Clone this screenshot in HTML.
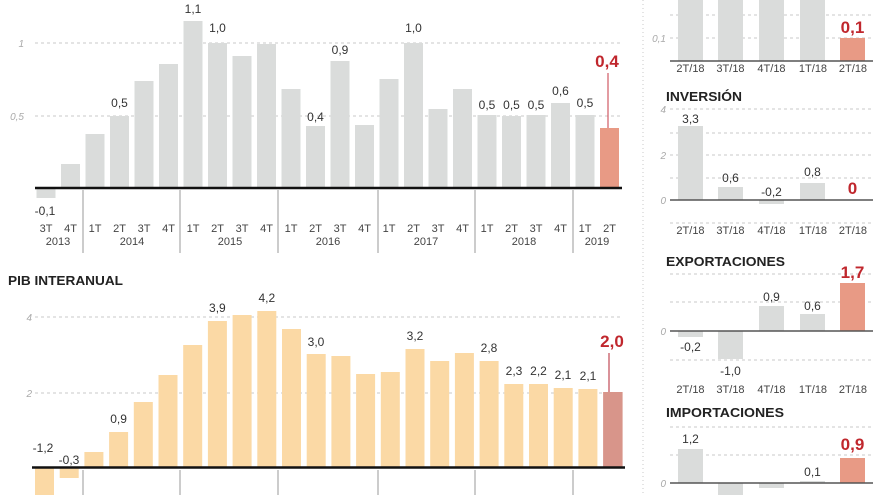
<!DOCTYPE html>
<html><head><meta charset="utf-8"><style>
html,body{margin:0;padding:0;background:#fff;}
svg{display:block;}
text{font-family:"Liberation Sans",sans-serif;}
.v{font-size:12px;fill:#333;text-anchor:middle;}
.t{font-size:11px;fill:#444;text-anchor:middle;}
.y{font-size:10px;fill:#aaa;font-style:italic;text-anchor:end;}
.r{font-size:17px;fill:#c0272d;font-weight:bold;text-anchor:middle;}
.h{font-size:13px;fill:#222;font-weight:bold;}
.g{stroke:#c8c8c8;stroke-width:1;stroke-dasharray:3,3;}
</style></head><body>
<svg width="880" height="495" viewBox="0 0 880 495" xmlns="http://www.w3.org/2000/svg">
<rect width="880" height="495" fill="#fff"/>

<!-- TOP CHART -->
<line class="g" x1="35" y1="43" x2="622" y2="43"/>
<line class="g" x1="35" y1="116" x2="622" y2="116"/>
<text class="y" x="24" y="47">1</text>
<text class="y" x="24" y="120">0,5</text>
<g fill="#dadcdb">
<rect x="36.5" y="189" width="19" height="9"/>
<rect x="61" y="164" width="19" height="24"/>
<rect x="85.5" y="134" width="19" height="54"/>
<rect x="110" y="116" width="19" height="72"/>
<rect x="134.5" y="81" width="19" height="107"/>
<rect x="159" y="64" width="19" height="124"/>
<rect x="183.5" y="21" width="19" height="167"/>
<rect x="208" y="43" width="19" height="145"/>
<rect x="232.5" y="56" width="19" height="132"/>
<rect x="257" y="44" width="19" height="144"/>
<rect x="281.5" y="89" width="19" height="99"/>
<rect x="306" y="126" width="19" height="62"/>
<rect x="330.5" y="61" width="19" height="127"/>
<rect x="355" y="125" width="19" height="63"/>
<rect x="379.5" y="79" width="19" height="109"/>
<rect x="404" y="43" width="19" height="145"/>
<rect x="428.5" y="109" width="19" height="79"/>
<rect x="453" y="89" width="19" height="99"/>
<rect x="477.5" y="115" width="19" height="73"/>
<rect x="502" y="116" width="19" height="72"/>
<rect x="526.5" y="115" width="19" height="73"/>
<rect x="551" y="103" width="19" height="85"/>
<rect x="575.5" y="115" width="19" height="73"/>
</g>
<rect x="600" y="128" width="19" height="60" fill="#e89a85"/>
<line x1="608" y1="73" x2="608" y2="128" stroke="#d05a63" stroke-width="1.2"/>
<line x1="35" y1="188" x2="622" y2="188" stroke="#111" stroke-width="2.5"/>
<g stroke="#9a9a9a" stroke-width="1">
<line x1="83" y1="190" x2="83" y2="253"/>
<line x1="180" y1="190" x2="180" y2="253"/>
<line x1="278" y1="190" x2="278" y2="253"/>
<line x1="378" y1="190" x2="378" y2="253"/>
<line x1="475" y1="190" x2="475" y2="253"/>
<line x1="573" y1="190" x2="573" y2="253"/>
</g>
<text class="v" x="45" y="215">-0,1</text>
<text class="v" x="119.5" y="107">0,5</text>
<text class="v" x="193" y="13">1,1</text>
<text class="v" x="217.5" y="32">1,0</text>
<text class="v" x="315.5" y="121">0,4</text>
<text class="v" x="340" y="54">0,9</text>
<text class="v" x="413.5" y="32">1,0</text>
<text class="v" x="487" y="109">0,5</text>
<text class="v" x="511.5" y="109">0,5</text>
<text class="v" x="536" y="109">0,5</text>
<text class="v" x="560.5" y="95">0,6</text>
<text class="v" x="585" y="107">0,5</text>
<text class="r" x="607" y="67">0,4</text>
<g class="t">
<text x="46" y="232">3T</text><text x="70.5" y="232">4T</text>
<text x="95" y="232">1T</text><text x="119.5" y="232">2T</text><text x="144" y="232">3T</text><text x="168.5" y="232">4T</text>
<text x="193" y="232">1T</text><text x="217.5" y="232">2T</text><text x="242" y="232">3T</text><text x="266.5" y="232">4T</text>
<text x="291" y="232">1T</text><text x="315.5" y="232">2T</text><text x="340" y="232">3T</text><text x="364.5" y="232">4T</text>
<text x="389" y="232">1T</text><text x="413.5" y="232">2T</text><text x="438" y="232">3T</text><text x="462.5" y="232">4T</text>
<text x="487" y="232">1T</text><text x="511.5" y="232">2T</text><text x="536" y="232">3T</text><text x="560.5" y="232">4T</text>
<text x="585" y="232">1T</text><text x="609.5" y="232">2T</text>
<text x="58" y="245">2013</text>
<text x="132" y="245">2014</text>
<text x="230" y="245">2015</text>
<text x="328" y="245">2016</text>
<text x="426" y="245">2017</text>
<text x="524" y="245">2018</text>
<text x="597" y="245">2019</text>
</g>

<!-- BOTTOM CHART -->
<text class="h" x="8" y="285" textLength="115" lengthAdjust="spacingAndGlyphs">PIB INTERANUAL</text>
<line class="g" x1="35" y1="317" x2="622" y2="317"/>
<line class="g" x1="35" y1="393" x2="622" y2="393"/>
<text class="y" x="32" y="321">4</text>
<text class="y" x="32" y="397">2</text>
<g fill="#fbd9a5">
<rect x="35" y="468" width="19" height="30"/>
<rect x="59.7" y="468" width="19" height="10"/>
<rect x="84.4" y="452" width="19" height="16"/>
<rect x="109.1" y="432" width="19" height="36"/>
<rect x="133.8" y="402" width="19" height="66"/>
<rect x="158.5" y="375" width="19" height="93"/>
<rect x="183.2" y="345" width="19" height="123"/>
<rect x="207.9" y="321" width="19" height="147"/>
<rect x="232.6" y="315" width="19" height="153"/>
<rect x="257.3" y="311" width="19" height="157"/>
<rect x="282" y="329" width="19" height="139"/>
<rect x="306.7" y="354" width="19" height="114"/>
<rect x="331.4" y="356" width="19" height="112"/>
<rect x="356.1" y="374" width="19" height="94"/>
<rect x="380.8" y="372" width="19" height="96"/>
<rect x="405.5" y="349" width="19" height="119"/>
<rect x="430.2" y="361" width="19" height="107"/>
<rect x="454.9" y="353" width="19" height="115"/>
<rect x="479.6" y="361" width="19" height="107"/>
<rect x="504.3" y="384" width="19" height="84"/>
<rect x="529" y="384" width="19" height="84"/>
<rect x="553.7" y="388" width="19" height="80"/>
<rect x="578.4" y="389" width="19" height="79"/>
</g>
<rect x="603.1" y="392" width="19.5" height="76" fill="#d8958a"/>
<line x1="609" y1="353" x2="609" y2="392" stroke="#c04a55" stroke-width="1.2"/>
<line x1="32" y1="467.5" x2="625" y2="467.5" stroke="#111" stroke-width="2.5"/>
<g stroke="#9a9a9a" stroke-width="1">
<line x1="83" y1="470" x2="83" y2="495"/>
<line x1="180" y1="470" x2="180" y2="495"/>
<line x1="278" y1="470" x2="278" y2="495"/>
<line x1="378" y1="470" x2="378" y2="495"/>
<line x1="475" y1="470" x2="475" y2="495"/>
<line x1="573" y1="470" x2="573" y2="495"/>
</g>
<text class="v" x="43" y="452">-1,2</text>
<text class="v" x="69" y="464">-0,3</text>
<text class="v" x="118.6" y="423">0,9</text>
<text class="v" x="217.4" y="312">3,9</text>
<text class="v" x="266.8" y="302">4,2</text>
<text class="v" x="316" y="346">3,0</text>
<text class="v" x="415" y="340">3,2</text>
<text class="v" x="489" y="352">2,8</text>
<text class="v" x="514" y="375">2,3</text>
<text class="v" x="538.5" y="375">2,2</text>
<text class="v" x="563" y="379">2,1</text>
<text class="v" x="588" y="380">2,1</text>
<text class="r" x="612" y="347">2,0</text>

<!-- SEPARATOR -->
<line x1="643" y1="0" x2="643" y2="495" stroke="#c8c8c8" stroke-width="1" stroke-dasharray="1,3"/>

<!-- RIGHT TOP PANEL -->
<line class="g" x1="670" y1="15" x2="873" y2="15"/>
<line class="g" x1="670" y1="38" x2="873" y2="38"/>
<text class="y" x="666" y="42">0,1</text>
<g fill="#dadcdb">
<rect x="678" y="0" width="25" height="61"/>
<rect x="718" y="0" width="25" height="61"/>
<rect x="759" y="0" width="25" height="61"/>
<rect x="800" y="0" width="25" height="61"/>
</g>
<rect x="840" y="38" width="25" height="23" fill="#e89a85"/>
<line x1="670" y1="61" x2="873" y2="61" stroke="#555" stroke-width="1.5"/>
<text class="r" x="852.5" y="33">0,1</text>
<g class="t">
<text x="690.5" y="72">2T/18</text><text x="730.5" y="72">3T/18</text><text x="771.5" y="72">4T/18</text><text x="813" y="72">1T/18</text><text x="853" y="72">2T/18</text>
</g>

<!-- INVERSION -->
<text class="h" x="666" y="101" textLength="76" lengthAdjust="spacingAndGlyphs">INVERSIÓN</text>
<line class="g" x1="670" y1="109" x2="873" y2="109"/>
<line class="g" x1="670" y1="133" x2="873" y2="133"/>
<line class="g" x1="670" y1="155" x2="873" y2="155"/>
<line class="g" x1="670" y1="178" x2="873" y2="178"/>
<line class="g" x1="670" y1="223" x2="873" y2="223"/>
<text class="y" x="666" y="113">4</text>
<text class="y" x="666" y="159">2</text>
<text class="y" x="666" y="204">0</text>
<g fill="#dadcdb">
<rect x="678" y="126" width="25" height="74"/>
<rect x="718" y="187" width="25" height="13"/>
<rect x="759" y="200" width="25" height="4"/>
<rect x="800" y="183" width="25" height="17"/>
</g>
<line x1="670" y1="200" x2="873" y2="200" stroke="#555" stroke-width="1.5"/>
<text class="v" x="690.5" y="123">3,3</text>
<text class="v" x="730.5" y="182">0,6</text>
<text class="v" x="771.5" y="196">-0,2</text>
<text class="v" x="812.5" y="176">0,8</text>
<text class="r" x="852.5" y="194">0</text>
<g class="t">
<text x="690.5" y="234">2T/18</text><text x="730.5" y="234">3T/18</text><text x="771.5" y="234">4T/18</text><text x="813" y="234">1T/18</text><text x="853" y="234">2T/18</text>
</g>

<!-- EXPORTACIONES -->
<text class="h" x="666" y="266" textLength="119" lengthAdjust="spacingAndGlyphs">EXPORTACIONES</text>
<line class="g" x1="670" y1="274" x2="873" y2="274"/>
<line class="g" x1="670" y1="302" x2="873" y2="302"/>
<line class="g" x1="670" y1="360" x2="873" y2="360"/>
<text class="y" x="666" y="335">0</text>
<g fill="#dadcdb">
<rect x="678" y="331" width="25" height="6"/>
<rect x="718" y="331" width="25" height="28"/>
<rect x="759" y="306" width="25" height="25"/>
<rect x="800" y="314" width="25" height="17"/>
</g>
<rect x="840" y="283" width="25" height="48" fill="#e89a85"/>
<line x1="670" y1="331" x2="873" y2="331" stroke="#555" stroke-width="1.5"/>
<text class="v" x="690.5" y="351">-0,2</text>
<text class="v" x="730.5" y="375">-1,0</text>
<text class="v" x="771.5" y="301">0,9</text>
<text class="v" x="812.5" y="310">0,6</text>
<text class="r" x="852.5" y="278">1,7</text>
<g class="t">
<text x="690.5" y="393">2T/18</text><text x="730.5" y="393">3T/18</text><text x="771.5" y="393">4T/18</text><text x="813" y="393">1T/18</text><text x="853" y="393">2T/18</text>
</g>

<!-- IMPORTACIONES -->
<text class="h" x="666" y="417" textLength="118" lengthAdjust="spacingAndGlyphs">IMPORTACIONES</text>
<line class="g" x1="670" y1="427" x2="873" y2="427"/>
<line class="g" x1="670" y1="455" x2="873" y2="455"/>
<text class="y" x="666" y="487">0</text>
<g fill="#dadcdb">
<rect x="678" y="449" width="25" height="34"/>
<rect x="718" y="483" width="25" height="15"/>
<rect x="759" y="483" width="25" height="5"/>
<rect x="800" y="481" width="25" height="2"/>
</g>
<rect x="840" y="458" width="25" height="25" fill="#e89a85"/>
<line x1="670" y1="483" x2="873" y2="483" stroke="#555" stroke-width="1.5"/>
<text class="v" x="690.5" y="443">1,2</text>
<text class="v" x="812.5" y="476">0,1</text>
<text class="r" x="852.5" y="450">0,9</text>
</svg>
</body></html>
